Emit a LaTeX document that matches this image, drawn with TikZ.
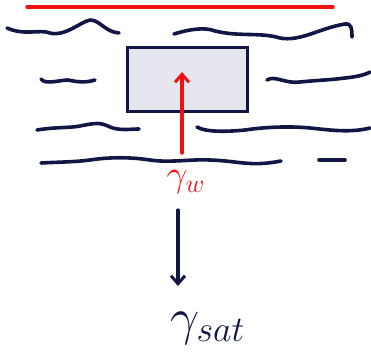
\documentclass[tikz,border=0pt]{standalone}
\usetikzlibrary{arrows.meta}
\definecolor{ink}{HTML}{111644}
\definecolor{pen}{HTML}{F21111}
\definecolor{boxfill}{HTML}{E6E6EE}
\tikzset{
  wave/.style={draw=ink, line width=3.6pt, line cap=round, line join=round},
  redpen/.style={draw=pen, line width=3.4pt, line cap=round},
  tipv/.style={-{Straight Barb[length=8pt,width=14pt,line width=3pt]}},
  lbl/.style={inner sep=0pt, font=\fontsize{20}{20}\selectfont}
}
\begin{document}
\begin{tikzpicture}[x=1pt,y=-1pt]
\useasboundingbox (0,0) rectangle (371,351);
% water surface
\draw[redpen] (27,7) -- (333,7);
% waves row 1
\draw[wave] (7,28) .. controls (25,36) and (40,29) .. (50,33) .. controls (65,37) and (80,22) .. (90,20) .. controls (100,20) and (105,32) .. (119,33);
\draw[wave] (174,34) .. controls (190,29) and (205,27) .. (215,31) .. controls (240,37) and (260,32) .. (280,38) .. controls (300,42) and (320,28) .. (345,24) .. controls (352,23) and (352,30) .. (352,37);
% waves row 2
\draw[wave] (41,79) .. controls (45,85) and (60,80) .. (68,80) .. controls (78,82) and (85,83) .. (95,80);
\draw[wave] (267,80) .. controls (275,75) and (285,84) .. (300,82) .. controls (320,80) and (330,80) .. (345,78) .. controls (355,77) and (365,75) .. (370,72);
% waves row 3
\draw[wave] (37,130) .. controls (55,127) and (70,128) .. (80,126) .. controls (95,123) and (100,122) .. (110,127) .. controls (120,131) and (130,129) .. (139,129);
\draw[wave] (197,127) .. controls (205,132) and (225,132) .. (245,130) .. controls (265,127) and (290,126) .. (310,128) .. controls (330,130) and (350,133) .. (370,128);
% waves row 4
\draw[wave] (41,163) .. controls (60,162) and (75,162) .. (90,160) .. controls (110,157) and (130,157) .. (150,160) .. controls (170,163) and (190,159) .. (210,160) .. controls (240,161) and (250,167) .. (281,161);
\draw[wave] (319,160) -- (345,160);
% block
\node[draw=ink, fill=boxfill, line width=3.2pt, minimum width=120pt, minimum height=64pt, inner sep=0pt, anchor=north west] (block) at (126,46) {};
\coordinate (blockin) at (182,72);
% labels
\node[lbl, text=pen] (gw) at (186,182) {\scalebox{1.8}{$\gamma_w$}};
\node[lbl, text=ink] (gs) at (208,328) {\scalebox{2.5}{$\gamma_{sat}$}};
% arrows
\coordinate (redstart) at (182,153);
\draw[redpen, tipv] (redstart) -- (blockin);
\draw[draw=ink, line width=3.2pt, line cap=round, tipv] (178,210) -- (178,286);
\end{tikzpicture}
\end{document}
